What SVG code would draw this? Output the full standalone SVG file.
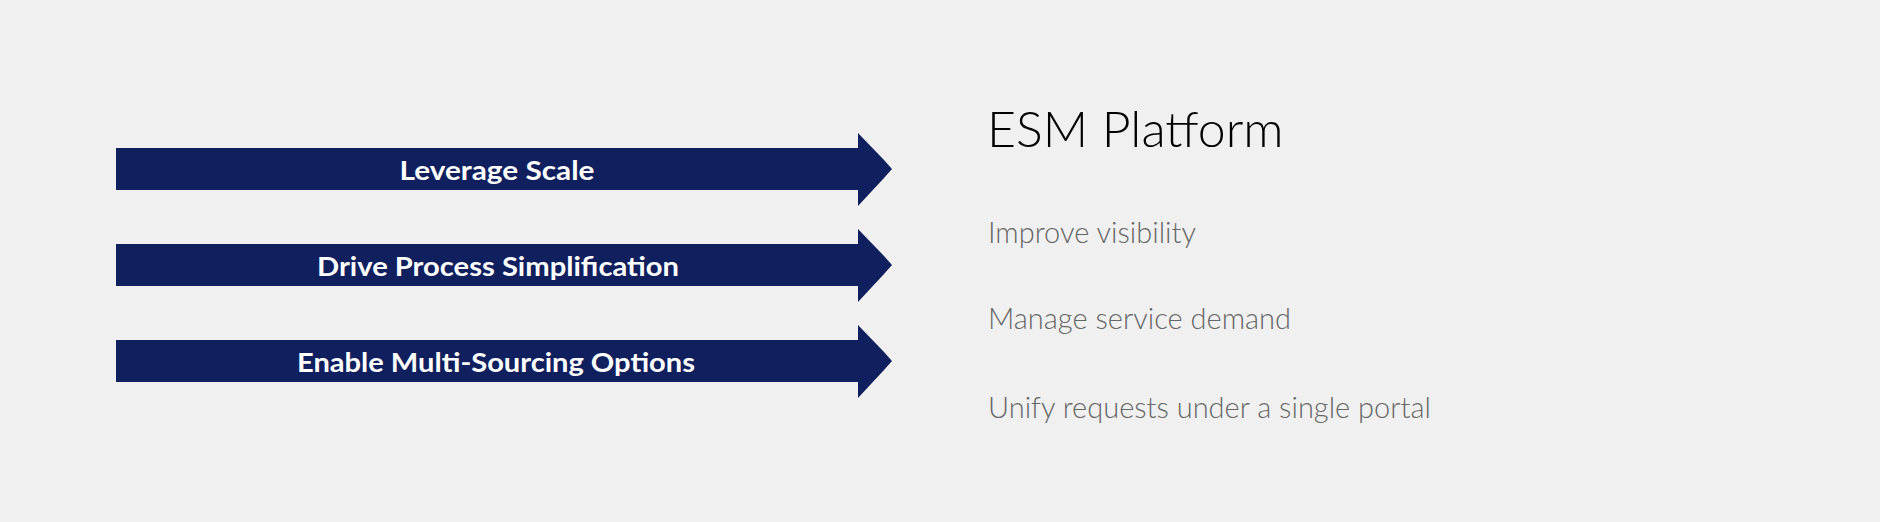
<svg xmlns="http://www.w3.org/2000/svg" width="1880" height="522" viewBox="0 0 1880 522">
<defs>
<style>
.arrow{fill:#101f5e}
.lbl{font-family:Lato,"Open Sans","Liberation Sans",sans-serif;font-weight:700;font-size:27px;fill:#ffffff;text-anchor:middle}
.title{font-family:Lato,"Open Sans","Liberation Sans",sans-serif;font-weight:300;font-size:50px;fill:#000000}
.item{font-family:Lato,"Open Sans","Liberation Sans",sans-serif;font-weight:300;font-size:29px;fill:#666666}
</style>
</defs>
<rect width="1880" height="522" fill="#f0f0f0"/>
<g id="connectors"></g>
<g id="arrow1">
<polygon class="arrow" points="116,148 858,148 858,133 884,160 892,169 884,178 858,206 858,190 116,190"/>
<text class="lbl" x="497" y="180" textLength="195" lengthAdjust="spacingAndGlyphs">Leverage Scale</text>
</g>
<g id="arrow2">
<polygon class="arrow" points="116,244 858,244 858,229 884,256 892,265 884,274 858,302 858,286 116,286"/>
<text class="lbl" x="498" y="276" textLength="362" lengthAdjust="spacingAndGlyphs">Drive Process Simplification</text>
</g>
<g id="arrow3">
<polygon class="arrow" points="116,340 858,340 858,325 884,352 892,361 884,370 858,398 858,382 116,382"/>
<text class="lbl" x="496" y="372" textLength="398" lengthAdjust="spacingAndGlyphs">Enable Multi-Sourcing Options</text>
</g>
<g id="esm">
<text class="title" x="987" y="147">ESM Platform</text>
<text class="item" x="988" y="243">Improve visibility</text>
<text class="item" x="988" y="329">Manage service demand</text>
<text class="item" x="988" y="418">Unify requests under a single portal</text>
</g>
</svg>
